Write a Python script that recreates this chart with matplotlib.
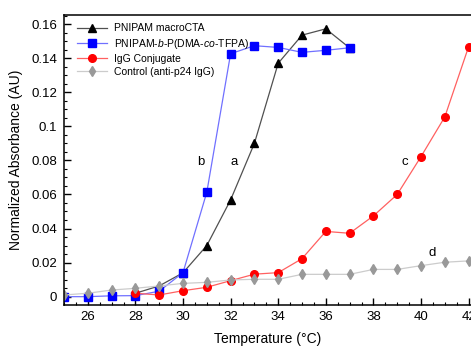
import matplotlib
matplotlib.use('Agg')
import matplotlib.pyplot as plt
from matplotlib.ticker import MultipleLocator, FormatStrFormatter

plt.rcParams['font.family'] = ['Liberation Sans', 'DejaVu Sans']
plt.rcParams['mathtext.fontset'] = 'custom'
plt.rcParams['mathtext.rm'] = 'Liberation Sans'
plt.rcParams['mathtext.it'] = 'Liberation Sans:italic'

# PNIPAM macroCTA (a)
temp_a = [28, 29, 30, 31, 32, 33, 34, 35, 36, 37]
abs_a = [0.002, 0.0063, 0.014, 0.030, 0.0568, 0.090, 0.137, 0.1535, 0.1572, 0.146]

# PNIPAM-b-P(DMA-co-TFPA) (b)
temp_b = [25, 26, 27, 28, 29, 30, 31, 32, 33, 34, 35, 36, 37]
abs_b = [0.0, 0.0, 0.0005, 0.0006, 0.0032, 0.0141, 0.0613, 0.1426, 0.1473, 0.1463, 0.1434, 0.1446, 0.1461]

# IgG Conjugate (c)
temp_c = [28, 29, 30, 31, 32, 33, 34, 35, 36, 37, 38, 39, 40, 41, 42]
abs_c = [0.002, 0.001, 0.0035, 0.0055, 0.0094, 0.0132, 0.0141, 0.0223, 0.0383, 0.0372,
         0.0474, 0.060, 0.0822, 0.1055, 0.1467]

# Control (anti-p24 IgG) (d)
temp_d = [25, 26, 27, 28, 29, 30, 31, 32, 33, 34, 35, 36, 37, 38, 39, 40, 41, 42]
abs_d = [0.001, 0.002, 0.0039, 0.0049, 0.0063, 0.0078, 0.0084, 0.0098, 0.0102, 0.0102,
         0.0131, 0.0131, 0.0131, 0.016, 0.016, 0.0182, 0.0202, 0.021]

fig = plt.figure(figsize=(4.71, 3.46), dpi=100)
ax = fig.add_axes([64 / 471, 41.5 / 346, 1 - 64 / 471, (304.5 - 14.7) / 346])

ax.plot(temp_a, abs_a, color='#505050', lw=0.9, marker='^', ms=5.2,
        mfc='black', mec='black', label='PNIPAM macroCTA')
ax.plot(temp_b, abs_b, color='#7070ff', lw=0.9, marker='s', ms=5.2,
        mfc='#0000ff', mec='#0000ff', label='PNIPAM-$b$-P(DMA-$co$-TFPA)')
ax.plot(temp_c, abs_c, color='#ff6060', lw=0.9, marker='o', ms=5.5,
        mfc='#ff0000', mec='#ff0000', label='IgG Conjugate')
ax.plot(temp_d, abs_d, color='#cccccc', lw=0.9, marker='d', ms=5.5,
        mfc='#999999', mec='#999999', label='Control (anti-p24 IgG)')

ax.text(30.74, 0.079, 'b', fontsize=9.5, ha='center', va='center')
ax.text(32.16, 0.079, 'a', fontsize=9.5, ha='center', va='center')
ax.text(39.33, 0.079, 'c', fontsize=9.5, ha='center', va='center')
ax.text(40.45, 0.0255, 'd', fontsize=9.5, ha='center', va='center')

ax.set_xlim(25, 25 + 407 / 23.8)
ax.set_ylim(-0.0046, 0.1655)
ax.xaxis.set_major_locator(MultipleLocator(2))
ax.xaxis.set_minor_locator(MultipleLocator(0.5))
ax.yaxis.set_major_locator(MultipleLocator(0.02))
ax.yaxis.set_minor_locator(MultipleLocator(0.005))
ax.yaxis.set_major_formatter(FormatStrFormatter('%g'))

ax.tick_params(which='both', direction='in', top=False, right=False, labelsize=9.5, pad=5)
ax.tick_params(which='major', length=5, width=1)
ax.tick_params(which='minor', length=2.5, width=0.8)
ax.spines['right'].set_visible(False)
for s in ('left', 'bottom', 'top'):
    ax.spines[s].set_linewidth(1.1)

ax.set_xlabel('Temperature (°C)', fontsize=10, labelpad=6)
ax.set_ylabel('Normalized Absorbance (AU)', fontsize=10, labelpad=6)

ax.legend(loc='upper left', bbox_to_anchor=(0.031, 0.97), frameon=False, fontsize=7.5,
          borderpad=0, borderaxespad=0, handlelength=2.9, handletextpad=0.7,
          labelspacing=0.3)

fig.savefig('out.png', dpi=100)
